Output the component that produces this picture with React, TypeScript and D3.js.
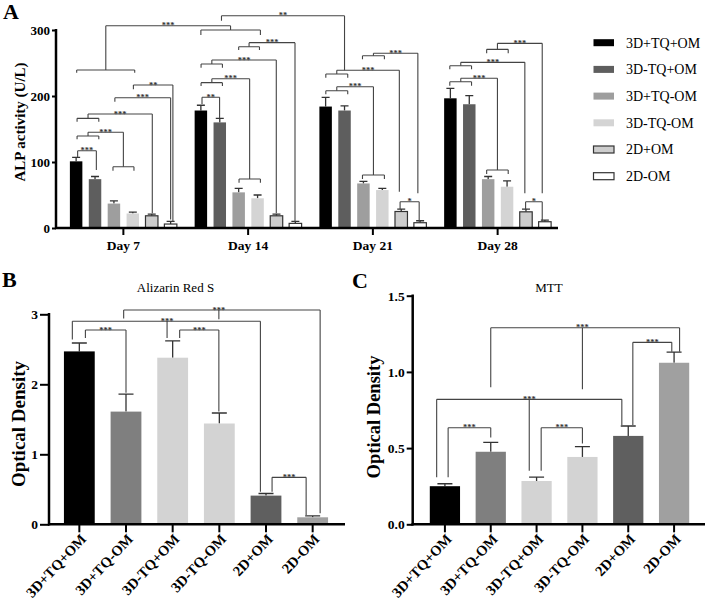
import * as d3 from "d3";
import { useRef, useEffect } from "react";

// ---- panel A: ALP activity ----
const SERIES = ["3D+TQ+OM", "3D-TQ+OM", "3D+TQ-OM", "3D-TQ-OM", "2D+OM", "2D-OM"];
const DAYS = ["Day 7", "Day 14", "Day 21", "Day 28"];
// one row per day, columns follow SERIES
const ALP_MEAN = [
  [101, 74, 37, 22, 18.5, 6],
  [178, 160, 54, 45, 18.5, 7],
  [184, 178, 67.5, 57.5, 25, 8],
  [196.5, 187.5, 74, 62.5, 24.5, 9.5],
];
const ALP_SD = [
  [6, 4, 4, 2, 2.5, 4],
  [8, 6, 6, 5, 2.5, 3],
  [14, 7, 3, 2.5, 3.5, 3],
  [15, 13, 4, 9, 4, 2.5],
];
const ALP_TICKS = [0, 100, 200, 300];
// grouping brackets: [day, fromBar, toBar, level, legEnd]
const ALP_GRP = [
  [0, 0.05, 1.2, 139.4, 134.4],
  [0, 1.95, 3.06, 92.9, 86.8],
  [0, 0.05, 1.2, 166.1, 161],
  [0, 0.03, 3.1, 239.4, 235.3],
  [1, 0, 3.15, 300, 292.4],
  [1, 0.01, 1.14, 220.2, 215.2],
  [1, 2.02, 3.15, 74.2, 68.6],
  [1, 0.01, 1.14, 248.5, 242.9],
  [1, 2.0, 3.1, 274.7, 269.7],
  [2, 0.01, 1.17, 233.3, 227.7],
  [2, 0.01, 1.17, 208, 202.6],
  [2, 1.95, 3.11, 80.3, 74.2],
  [2, 1.95, 3.11, 261, 255.6],
  [3, -0.03, 1.12, 221.7, 215.6],
  [3, 1.92, 3.06, 87.9, 81.8],
  [3, -0.03, 1.12, 245.9, 240.5],
  [3, 1.92, 3.06, 270.7, 264.7],
];
// comparisons: [day1, bar1, day2, bar2, level, leftEnd, rightEnd, label]
const ALP_CMP: [number, number, number, number, number, number, number, string][] = [
  [0, 0.08, 0, 1.07, 117, 107.6, 88, "***"],
  [0, 0.63, 0, 2.5, 145, 139.4, 92.9, "***"],
  [0, 0.63, 0, 4.03, 172.7, 166.1, 22.3, "***"],
  [0, 2.05, 0, 5.0, 197.4, 191.4, 13, "***"],
  [0, 3.03, 0, 5.12, 216.7, 210.2, 10, "**"],
  [0, 1.57, 1, 1.57, 306.5, 239.4, 300, "***"],
  [1, 1.09, 2, 1.0, 321.7, 314, 239, "**"],
  [1, 0.06, 1, 0.99, 198, 187.9, 166.2, "**"],
  [1, 0.58, 1, 2.58, 226.2, 220.2, 74.2, "***"],
  [1, 0.58, 1, 3.99, 254.5, 248.5, 22.3, "***"],
  [1, 2.55, 1, 4.98, 280.8, 274.7, 8.6, "***"],
  [2, 0.59, 2, 3.9, 239, 233.3, 55, "***"],
  [2, 0.59, 2, 2.53, 214, 208, 80.3, "***"],
  [2, 2.53, 2, 4.88, 264.7, 261, 52.6, "***"],
  [2, 3.94, 2, 4.95, 39.8, 28.8, 9.5, "*"],
  [3, 0.55, 3, 2.49, 226.8, 221.7, 87.9, "***"],
  [3, 0.55, 3, 3.94, 251, 245.9, 52.6, "***"],
  [3, 2.49, 3, 4.86, 279.8, 270.7, 52.6, "***"],
  [3, 3.98, 3, 4.86, 39.8, 27.3, 9.5, "*"],
];

// ---- panels B and C ----
const GROUPS = ["3D+TQ+OM", "3D+TQ-OM", "3D-TQ+OM", "3D-TQ-OM", "2D+OM", "2D-OM"];
const ARS_MEAN = [2.47, 1.61, 2.38, 1.44, 0.41, 0.1];
const ARS_SD = [0.12, 0.25, 0.24, 0.15, 0.03, 0.02];
const ARS_TICKS = [0, 1, 2, 3];
const MTT_MEAN = [0.25, 0.476, 0.284, 0.442, 0.58, 1.06];
const MTT_SD = [0.016, 0.062, 0.026, 0.068, 0.065, 0.07];
const MTT_TICKS = [0, 0.5, 1, 1.5];

type Pos = number | [number, number];
type Sig = { from: Pos; to: Pos; at: number; legs: [Pos, number][]; label?: string; lx?: Pos };

const ARS_SIG: Sig[] = [
  { from: 0.95, to: 5.16, at: 3.061, legs: [[0.95, 2.94], [2.99, 2.93], [5.16, 0.157]], label: "***", lx: 2.99 },
  { from: -0.15, to: 3.88, at: 2.9, legs: [[-0.15, 2.64], [1.88, 2.66], [3.88, 0.466]], label: "***", lx: 1.88 },
  { from: 0.13, to: 1.0, at: 2.776, legs: [[0.13, 2.66], [1.0, 1.88]], label: "***" },
  { from: 2.15, to: 2.99, at: 2.776, legs: [[2.15, 2.66], [2.99, 1.61]], label: "***" },
  { from: 4.13, to: 4.86, at: 0.671, legs: [[4.13, 0.466], [4.86, 0.133]], label: "***" },
];
const MTT_SIG: Sig[] = [
  { from: 1.0, to: 5.12, at: 1.29, legs: [[1.0, 0.899], [3.0, 0.886], [5.12, 1.133]], label: "***", lx: 3.0 },
  { from: -0.18, to: 3.86, at: 0.82, legs: [[-0.18, 0.308], [1.84, 0.352], [3.86, 0.652]], label: "***", lx: 1.84 },
  { from: 0.07, to: 1.0, at: 0.634, legs: [[0.07, 0.308], [1.0, 0.57]], label: "***" },
  { from: 2.1, to: 3.0, at: 0.634, legs: [[2.1, 0.352], [3.0, 0.53]], label: "***" },
  { from: 4.1, to: 4.95, at: 1.194, legs: [[4.1, 0.652], [4.95, 1.133]], label: "***" },
];

const FONT = "'Liberation Serif', 'Times New Roman', serif";
const A_FILL = ["#000000", "#5e5e5e", "#9e9e9e", "#d4d4d4", "#cdcdcd", "#ffffff"];
const A_STROKE = ["none", "none", "none", "none", "#333", "#333"];
const BC_FILL = ["#000000", "#7f7f7f", "#d3d3d3", "#d3d3d3", "#5f5f5f", "#a0a0a0"];

const SigMarks = ({ items, px, py }: { items: Sig[]; px: (p: Pos) => number; py: (v: number) => number }) => (
  <g>
    {items.map((s, i) => {
      const x1 = px(s.from), x2 = px(s.to), y = py(s.at);
      let d = `M${x1},${y}H${x2}`;
      s.legs.forEach(([p, v]) => {
        d += `M${px(p)},${y}V${py(v)}`;
      });
      const lx = s.lx != null ? px(s.lx) : (x1 + x2) / 2;
      return (
        <g key={i}>
          <path d={d} fill="none" stroke="#444" strokeWidth={1.1} />
          {s.label && (
            <text x={lx} y={y + 2.6} textAnchor="middle" fontSize={8.5} fontWeight="bold" fill="#333" fontFamily={FONT}>
              {s.label}
            </text>
          )}
        </g>
      );
    })}
  </g>
);

export default function App() {
  const aY = useRef<SVGGElement>(null),
    aX = useRef<SVGGElement>(null),
    bY = useRef<SVGGElement>(null),
    bX = useRef<SVGGElement>(null),
    cY = useRef<SVGGElement>(null),
    cX = useRef<SVGGElement>(null);

  // A scales
  const xDay = d3.scaleBand().domain(DAYS).range([61, 560]);
  const xSer = d3.scaleBand().domain(SERIES).range([0, 113.4]).paddingInner(0.34).paddingOuter(0.17);
  const yA = d3.scaleLinear().domain([0, 300]).range([228, 30]);
  const inOff = (xDay.bandwidth() - 113.4) / 2;
  const aPx = (p: Pos) => {
    const [d, b] = p as [number, number];
    return xDay(DAYS[d])! + xDay.bandwidth() / 2 + (b - 2.5) * xSer.step();
  };
  const alpSig: Sig[] = [
    ...ALP_GRP.map(([d, b1, b2, at, end]) => ({
      from: [d, b1] as Pos, to: [d, b2] as Pos, at,
      legs: [[[d, b1], end], [[d, b2], end]] as [Pos, number][],
    })),
    ...ALP_CMP.map(([d1, b1, d2, b2, at, e1, e2, label]) => ({
      from: [d1, b1] as Pos, to: [d2, b2] as Pos, at, label,
      legs: [[[d1, b1], e1], [[d2, b2], e2]] as [Pos, number][],
    })),
  ];

  // B and C scales
  const xB = d3.scaleBand().domain(GROUPS).range([56, 336]).paddingInner(0.34).paddingOuter(0.17);
  const yB = d3.scaleLinear().domain([0, 3]).range([524.3, 314.3]);
  const bPx = (p: Pos) => xB(GROUPS[0])! + xB.bandwidth() / 2 + (p as number) * xB.step();
  const xC = d3.scaleBand().domain(GROUPS).range([422, 697]).paddingInner(0.34).paddingOuter(0.17);
  const yC = d3.scaleLinear().domain([0, 1.5]).range([524.3, 295.7]);
  const cPx = (p: Pos) => xC(GROUPS[0])! + xC.bandwidth() / 2 + (p as number) * xC.step();

  useEffect(() => {
    const style = (g: any, size: number) => {
      g.attr("font-family", FONT).attr("font-size", size).attr("font-weight", "bold");
      g.select(".domain").remove();
      g.selectAll("line").attr("stroke", "#000").attr("stroke-width", 2);
      g.selectAll("text").attr("fill", "#000");
    };
    const rot = (g: any) =>
      g.selectAll("text").attr("y", 0).attr("dy", "0.35em").attr("text-anchor", "end")
        .attr("transform", "translate(4,12) rotate(-47)");

    d3.select(aY.current!).call(d3.axisLeft(yA).tickValues(ALP_TICKS).tickSize(4).tickPadding(2) as any).call(style, 13);
    d3.select(aX.current!).call(d3.axisBottom(xDay).tickSize(7).tickPadding(5) as any).call(style, 13.5);
    d3.select(bY.current!).call(d3.axisLeft(yB).tickValues(ARS_TICKS).tickSize(9).tickPadding(2).tickFormat(d3.format("d")) as any).call(style, 13.5);
    d3.select(bX.current!).call(d3.axisBottom(xB).tickSize(8) as any).call(style, 14.5).call(rot);
    d3.select(cY.current!).call(d3.axisLeft(yC).tickValues(MTT_TICKS).tickSize(6).tickPadding(2).tickFormat(d3.format(".1f")) as any).call(style, 13.5);
    d3.select(cX.current!).call(d3.axisBottom(xC).tickSize(8) as any).call(style, 14.5).call(rot);
  }, []);

  const errA = 4;
  const errBC = 7.5;

  return (
    <svg width={707} height={600} style={{ position: "absolute", left: 0, top: 0, background: "#fff" }} fontFamily={FONT}>
      {/* ---------- A ---------- */}
      <text x={3} y={19} fontSize={22} fontWeight="bold">A</text>
      <text transform="translate(25,122) rotate(-90)" textAnchor="middle" fontSize={15} fontWeight="bold">ALP activity (U/L)</text>
      {DAYS.map((day, d) => (
        <g key={day} transform={`translate(${xDay(day)! + inOff},0)`}>
          {SERIES.map((s, i) => {
            const m = ALP_MEAN[d][i], e = m + ALP_SD[d][i];
            const cx = xSer(s)! + xSer.bandwidth() / 2;
            return (
              <g key={s}>
                <path d={`M${cx},${yA(m)}V${yA(e)}M${cx - errA},${yA(e)}H${cx + errA}`} stroke="#333" strokeWidth={1.3} />
                <rect x={xSer(s)} y={yA(m)} width={xSer.bandwidth()} height={yA(0) - yA(m)} fill={A_FILL[i]} stroke={A_STROKE[i]} strokeWidth={1.2} />
              </g>
            );
          })}
        </g>
      ))}
      <line x1={56} x2={56} y1={29} y2={229} stroke="#000" strokeWidth={2.5} />
      <line x1={55} x2={558} y1={228} y2={228} stroke="#000" strokeWidth={2.5} />
      <g ref={aY} transform="translate(56,0)" />
      <g ref={aX} transform="translate(0,228)" />
      <SigMarks items={alpSig} px={aPx} py={yA} />
      {SERIES.map((s, i) => (
        <g key={s} transform={`translate(593,${42.7 + i * 26.7})`}>
          <rect x={0.5} y={-3.5} width={20.5} height={7} fill={A_FILL[i]} stroke={A_STROKE[i]} strokeWidth={1.2} />
          <text x={33} dy="0.35em" fontSize={14} fontFamily={FONT}>{s}</text>
        </g>
      ))}

      {/* ---------- B ---------- */}
      <text x={2} y={287} fontSize={22} fontWeight="bold">B</text>
      <text x={175.5} y={292} textAnchor="middle" fontSize={13} fontFamily={FONT}>Alizarin Red S</text>
      <text transform="translate(25,424) rotate(-90)" textAnchor="middle" fontSize={19} fontWeight="bold">Optical Density</text>
      {GROUPS.map((g, i) => {
        const m = ARS_MEAN[i], e = m + ARS_SD[i];
        const cx = xB(g)! + xB.bandwidth() / 2;
        return (
          <g key={g}>
            <path d={`M${cx},${yB(m)}V${yB(e)}M${cx - errBC},${yB(e)}H${cx + errBC}`} stroke="#333" strokeWidth={1.3} />
            <rect x={xB(g)} y={yB(m)} width={xB.bandwidth()} height={yB(0) - yB(m)} fill={BC_FILL[i]} />
          </g>
        );
      })}
      <line x1={49} x2={49} y1={313} y2={525.5} stroke="#000" strokeWidth={2.5} />
      <line x1={48} x2={345} y1={524.3} y2={524.3} stroke="#000" strokeWidth={2.5} />
      <g ref={bY} transform="translate(49,0)" />
      <g ref={bX} transform="translate(0,524.3)" />
      <SigMarks items={ARS_SIG} px={bPx} py={yB} />

      {/* ---------- C ---------- */}
      <text x={352} y={288} fontSize={22} fontWeight="bold">C</text>
      <text x={549} y={292} textAnchor="middle" fontSize={13} fontFamily={FONT}>MTT</text>
      <text transform="translate(380,417) rotate(-90)" textAnchor="middle" fontSize={18.5} fontWeight="bold">Optical Density</text>
      {GROUPS.map((g, i) => {
        const m = MTT_MEAN[i], e = m + MTT_SD[i];
        const cx = xC(g)! + xC.bandwidth() / 2;
        return (
          <g key={g}>
            <path d={`M${cx},${yC(m)}V${yC(e)}M${cx - errBC},${yC(e)}H${cx + errBC}`} stroke="#333" strokeWidth={1.3} />
            <rect x={xC(g)} y={yC(m)} width={xC.bandwidth()} height={yC(0) - yC(m)} fill={BC_FILL[i]} />
          </g>
        );
      })}
      <line x1={412.7} x2={412.7} y1={294.5} y2={525.5} stroke="#000" strokeWidth={2.5} />
      <line x1={411.5} x2={705} y1={524.3} y2={524.3} stroke="#000" strokeWidth={2.5} />
      <g ref={cY} transform="translate(412.7,0)" />
      <g ref={cX} transform="translate(0,524.3)" />
      <SigMarks items={MTT_SIG} px={cPx} py={yC} />
    </svg>
  );
}
